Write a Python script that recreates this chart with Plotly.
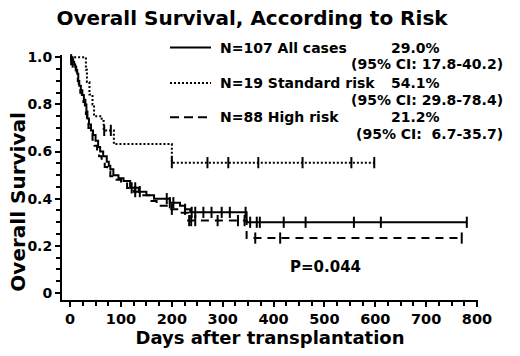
import numpy as np
import plotly.graph_objects as go

# ---- data ----
t_all = [0, 2, 5, 8, 10, 12, 14, 16, 18, 21, 24, 27, 30, 32, 34, 37, 41, 45, 50, 55, 59, 65, 72, 76, 79, 85, 95,
         105, 118, 135, 150, 165, 196, 216, 226, 236, 347, 780]
s_all = [1.0, 0.99, 0.98, 0.97, 0.96, 0.945, 0.93, 0.90, 0.88, 0.86, 0.84, 0.82, 0.80, 0.77, 0.74, 0.715, 0.69, 0.67,
         0.646, 0.62, 0.60, 0.58, 0.557, 0.54, 0.525, 0.50, 0.487, 0.475, 0.446, 0.43, 0.415, 0.40, 0.383, 0.37,
         0.355, 0.342, 0.30, 0.30]
c_all = [2, 5, 121, 128, 137, 190, 196, 203, 226, 239, 246, 262, 278, 298, 314, 345, 354, 367, 373, 420, 463, 558,
         611, 780]

t_high = [0, 3, 6, 9, 11, 13, 15, 17, 20, 23, 26, 29, 31, 33, 36, 40, 44, 48, 53, 57, 62, 68, 73, 79, 88, 100, 112,
          125, 140, 160, 170, 195, 215, 232, 347, 770]
s_high = [1.0, 0.99, 0.975, 0.96, 0.945, 0.925, 0.90, 0.875, 0.85, 0.83, 0.81, 0.785, 0.76, 0.73, 0.70, 0.675, 0.65,
          0.625, 0.60, 0.58, 0.56, 0.535, 0.515, 0.495, 0.48, 0.465, 0.445, 0.43, 0.415, 0.39, 0.37, 0.355, 0.34,
          0.307, 0.233, 0.233]
c_high = [128, 200, 234, 238, 246, 290, 330, 343, 364, 413, 770]

t_std = [0, 31, 33, 38, 44, 47, 62, 66, 86, 200, 600]
s_std = [1.0, 0.947, 0.895, 0.842, 0.80, 0.75, 0.73, 0.69, 0.632, 0.553, 0.553]
c_std = [67, 80, 200, 270, 311, 370, 457, 553, 598]

legend_rows = [
    ("N=107 All cases", "29.0%", "(95% CI: 17.8-40.2)", "solid"),
    ("N=19 Standard risk", "54.1%", "(95% CI: 29.8-78.4)", "2px,2px"),
    ("N=88 High risk", "21.2%", "(95% CI:\u00a0\u00a06.7-35.7)", "9px,5px"),
]
x_ticks = [0, 100, 200, 300, 400, 500, 600, 700, 800]
y_ticks = [0, 0.2, 0.4, 0.6, 0.8, 1.0]
y_tick_text = ["0", "0.2", "0.4", "0.6", "0.8", "1.0"]

FONT = "DejaVu Sans"
W, H = 520, 356
L, R, T, B = 62, 42, 54.6, 51.8


def step_val(ts, ss, x):
    i = np.searchsorted(np.array(ts), x, side="right") - 1
    return ss[max(i, 0)]


fig = go.Figure()
for ts, ss, cs, dash in [(t_all, s_all, c_all, "solid"),
                         (t_std, s_std, c_std, "2px,2px"),
                         (t_high, s_high, c_high, "8px,6px")]:
    fig.add_trace(go.Scatter(x=ts, y=ss, mode="lines", line_shape="hv",
                             line=dict(color="black", width=2, dash=dash),
                             showlegend=False, hoverinfo="skip"))
    fig.add_trace(go.Scatter(x=cs, y=[step_val(ts, ss, c) for c in cs], mode="markers",
                             marker=dict(symbol="line-ns", size=8, line=dict(color="black", width=2)),
                             showlegend=False, hoverinfo="skip", cliponaxis=False))


def px2x(px):
    return (px - L) / (W - L - R)


def py2y(py):
    return 1 - (py - T) / (H - T - B)


ann = []
shapes = []
row_y = [47, 83, 118]
for (name, pct, ci, dash), yy in zip(legend_rows, row_y):
    shapes.append(dict(type="line", xref="paper", yref="paper", x0=px2x(170), x1=px2x(211),
                       y0=py2y(yy), y1=py2y(yy), line=dict(color="black", width=2, dash=dash)))
    ann.append(dict(text=name, x=px2x(219), y=py2y(yy), xanchor="left", yanchor="middle"))
    ann.append(dict(text=pct, x=px2x(441), y=py2y(yy), xanchor="right", yanchor="middle"))
    ann.append(dict(text=ci, x=px2x(504), y=py2y(yy + 17), xanchor="right", yanchor="middle"))
ann.append(dict(text="P=0.044", x=px2x(289), y=py2y(271), xanchor="left", yanchor="middle",
                font=dict(size=15, family=FONT, color="black")))
ann.append(dict(text="Overall Survival", x=px2x(18), y=py2y(205), xanchor="center", yanchor="middle",
                textangle=-90, font=dict(size=20, family=FONT, color="black")))
for a in ann:
    a.update(xref="paper", yref="paper", showarrow=False, borderpad=0)
    a.setdefault("font", dict(size=14, family=FONT, color="black"))

fig.update_layout(
    width=W, height=H, margin=dict(l=L, r=R, t=T, b=B),
    paper_bgcolor="white", plot_bgcolor="white",
    font=dict(family=FONT, color="black", size=14),
    title=dict(text="<b>Overall Survival, According to Risk</b>", x=252 / W, xanchor="center",
               y=1 - 18 / H, yanchor="middle", font=dict(size=20, family=FONT, color="black")),
    annotations=[dict(a, text="<b>" + a["text"] + "</b>") for a in ann],
    shapes=shapes,
    hovermode=False,
)
fig.update_xaxes(range=[-16, 802], showline=True, linecolor="black", linewidth=2, showgrid=False,
                 zeroline=False, ticks="outside", ticklen=5, tickwidth=2, tickcolor="black",
                 tickvals=x_ticks, ticktext=["<b>%d</b>" % v for v in x_ticks],
                 tickfont=dict(size=14.5, family=FONT),
                 minor=dict(dtick=25, tick0=0, ticks="outside", ticklen=4, tickwidth=1.5, tickcolor="black"),
                 title=dict(text="<b>Days after transplantation</b>", font=dict(size=18, family=FONT),
                            standoff=4))
fig.update_yaxes(range=[-0.03, 1.01], showline=True, linecolor="black", linewidth=2, showgrid=False,
                 zeroline=False, ticks="outside", ticklen=5, tickwidth=2, tickcolor="black",
                 tickvals=y_ticks, ticktext=["<b>%s</b>" % t for t in y_tick_text],
                 tickfont=dict(size=14, family=FONT),
                 minor=dict(dtick=0.05, tick0=0, ticks="outside", ticklen=4, tickwidth=1.5, tickcolor="black"))

# remove the browser's default 8px body margin so the figure sits at the window's top-left corner
fig.write_html("out.html", config={"displayModeBar": False},
               post_script="document.body.style.margin='0';")
